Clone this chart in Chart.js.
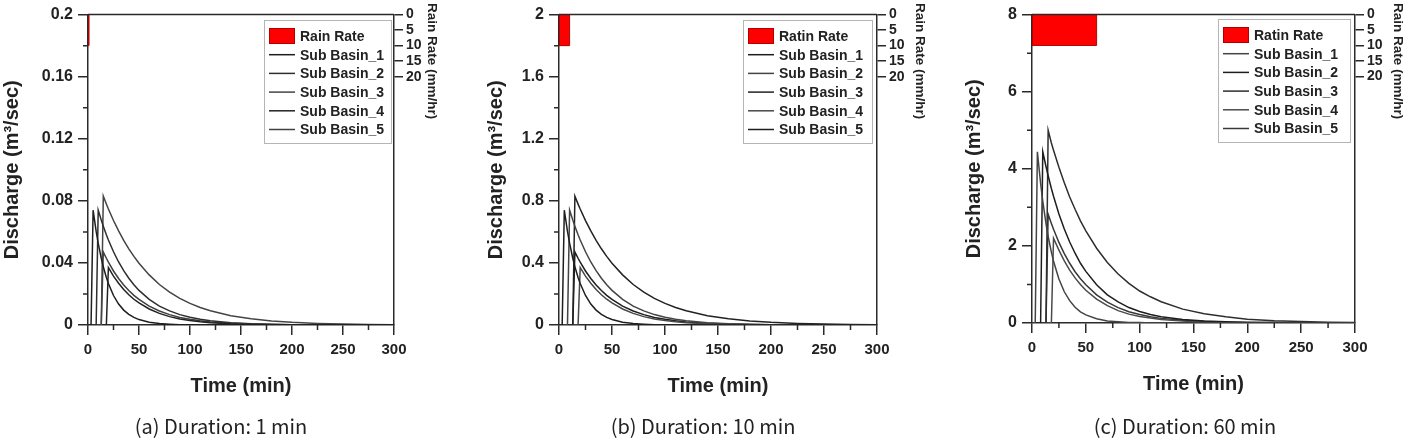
<!DOCTYPE html>
<html>
<head>
<meta charset="utf-8">
<script src="https://cdn.jsdelivr.net/npm/chart.js@4.4.1/dist/chart.umd.min.js"></script>
<style>
  body { margin: 0; background: #fff; width: 1410px; height: 440px; position: relative; overflow: hidden; }
  canvas { position: absolute; top: 0; }
  .cap { position: absolute; top: 414px; width: 300px; text-align: center; color: #222;
         font: 20px/24px "Noto Sans CJK KR", "Noto Sans", sans-serif; }
</style>
</head>
<body>
<canvas id="chartA" width="439" height="440" style="left:0px"></canvas>
<canvas id="chartB" width="443" height="440" style="left:484px"></canvas>
<canvas id="chartC" width="443" height="440" style="left:962px"></canvas>
<div class="cap" style="left:71px">(a) Duration: 1 min</div>
<div class="cap" style="left:553px">(b) Duration: 10 min</div>
<div class="cap" style="left:1035px">(c) Duration: 60 min</div>
<script>
// tiempo comun (min)
const timeMin = [0, 3, 5, 8, 10, 13, 15, 18, 20, 25, 30, 35, 40, 45, 50, 60, 70, 80, 90, 100, 110, 120, 140, 160, 180, 200, 225, 250, 275, 300];
const basinNames = ["Sub Basin_1", "Sub Basin_2", "Sub Basin_3", "Sub Basin_4", "Sub Basin_5"];

// lluvia (mm/hr)
const rainRate = [0, 10, 10, 0];
const rainTimeA = [0, 0, 1, 1];
const rainTimeB = [0, 0, 10, 10];
const rainTimeC = [0, 0, 60, 60];

// (a) Duration 1 min
const basin1A = [0, 0, 0.074, 0.0603, 0.0527, 0.043, 0.0375, 0.0306, 0.0267, 0.019, 0.0135, 0.0096, 0.0069, 0.0049, 0.0035, 0.0018, 0.0009, 0.0005, 0.0002, 0.0001, 0, 0, 0, 0, 0, 0, 0, 0, 0, 0];
const basin2A = [0, 0, 0, 0, 0.074, 0.0676, 0.0637, 0.0582, 0.0548, 0.0472, 0.0406, 0.035, 0.0301, 0.0259, 0.0223, 0.0165, 0.0122, 0.0091, 0.0067, 0.005, 0.0037, 0.0027, 0.0015, 0.0008, 0.0005, 0.0002, 0.0001, 0, 0, 0];
const basin3A = [0, 0, 0, 0, 0, 0, 0.083, 0.0779, 0.0747, 0.0673, 0.0606, 0.0545, 0.0491, 0.0442, 0.0398, 0.0323, 0.0261, 0.0212, 0.0172, 0.0139, 0.0113, 0.0092, 0.006, 0.004, 0.0026, 0.0017, 0.001, 0.0006, 0.0004, 0.0002];
const basin4A = [0, 0, 0, 0, 0, 0, 0, 0, 0.037, 0.0315, 0.0269, 0.0229, 0.0195, 0.0166, 0.0142, 0.0103, 0.0075, 0.0054, 0.0039, 0.0029, 0.0021, 0.0015, 0.0008, 0.0004, 0.0002, 0.0001, 0, 0, 0, 0];
const basin5A = [0, 0, 0, 0, 0, 0, 0.047, 0.043, 0.0405, 0.0348, 0.03, 0.0258, 0.0222, 0.0191, 0.0165, 0.0122, 0.009, 0.0067, 0.0049, 0.0037, 0.0027, 0.002, 0.0011, 0.0006, 0.0003, 0.0002, 0.0001, 0, 0, 0];

// (b) Duration 10 min
const basin1B = [0, 0, 0.74, 0.603, 0.527, 0.43, 0.375, 0.306, 0.267, 0.19, 0.135, 0.096, 0.069, 0.049, 0.035, 0.018, 0.009, 0.005, 0.002, 0.001, 0, 0, 0, 0, 0, 0, 0, 0, 0, 0];
const basin2B = [0, 0, 0, 0, 0.74, 0.676, 0.637, 0.582, 0.548, 0.472, 0.406, 0.35, 0.301, 0.259, 0.223, 0.165, 0.122, 0.091, 0.067, 0.05, 0.037, 0.027, 0.015, 0.008, 0.005, 0.002, 0.001, 0, 0, 0];
const basin3B = [0, 0, 0, 0, 0, 0, 0.83, 0.779, 0.747, 0.673, 0.606, 0.545, 0.491, 0.442, 0.398, 0.323, 0.261, 0.212, 0.172, 0.139, 0.113, 0.092, 0.06, 0.04, 0.026, 0.017, 0.01, 0.006, 0.004, 0.002];
const basin4B = [0, 0, 0, 0, 0, 0, 0, 0, 0.37, 0.315, 0.269, 0.229, 0.195, 0.166, 0.142, 0.103, 0.075, 0.054, 0.039, 0.029, 0.021, 0.015, 0.008, 0.004, 0.002, 0.001, 0, 0, 0, 0];
const basin5B = [0, 0, 0, 0, 0, 0, 0.47, 0.43, 0.405, 0.348, 0.3, 0.258, 0.222, 0.191, 0.165, 0.122, 0.09, 0.067, 0.049, 0.037, 0.027, 0.02, 0.011, 0.006, 0.003, 0.002, 0.001, 0, 0, 0];

// (c) Duration 60 min
const basin1C = [0, 0, 4.44, 3.62, 3.16, 2.58, 2.25, 1.84, 1.6, 1.14, 0.81, 0.58, 0.41, 0.29, 0.21, 0.11, 0.05, 0.03, 0.01, 0.01, 0, 0, 0, 0, 0, 0, 0, 0, 0, 0];
const basin2C = [0, 0, 0, 0, 4.44, 4.06, 3.82, 3.49, 3.29, 2.83, 2.44, 2.1, 1.81, 1.55, 1.34, 0.99, 0.73, 0.55, 0.4, 0.3, 0.22, 0.16, 0.09, 0.05, 0.03, 0.01, 0.01, 0, 0, 0];
const basin3C = [0, 0, 0, 0, 0, 0, 5.0, 4.67, 4.48, 4.04, 3.64, 3.27, 2.95, 2.65, 2.39, 1.94, 1.57, 1.27, 1.03, 0.83, 0.68, 0.55, 0.36, 0.24, 0.16, 0.1, 0.06, 0.04, 0.02, 0.01];
const basin4C = [0, 0, 0, 0, 0, 0, 0, 0, 2.2, 1.89, 1.61, 1.37, 1.17, 1.0, 0.85, 0.62, 0.45, 0.32, 0.23, 0.17, 0.13, 0.09, 0.05, 0.02, 0.01, 0.01, 0, 0, 0, 0];
const basin5C = [0, 0, 0, 0, 0, 0, 2.82, 2.58, 2.43, 2.09, 1.8, 1.55, 1.33, 1.15, 0.99, 0.73, 0.54, 0.4, 0.29, 0.22, 0.16, 0.12, 0.07, 0.04, 0.02, 0.01, 0.01, 0, 0, 0];

const AXIS = "#2a2a2a";
const FONT = "'Liberation Sans', Arial, sans-serif";
Chart.defaults.font.family = FONT;
Chart.defaults.color = "#222";

// marco superior, ticks menores, titulo derecho y leyenda interna
const framePlugin = {
  id: "frame",
  afterDraw(chart, args, o) {
    const ctx = chart.ctx;
    const a = chart.chartArea;
    const x = chart.scales.x;
    const y = chart.scales.y;
    ctx.save();
    ctx.strokeStyle = AXIS;
    ctx.lineWidth = 1.5;
    ctx.beginPath();
    ctx.moveTo(a.left, a.top);
    ctx.lineTo(a.right, a.top);
    for (let v = o.xStep / 2; v < x.max; v += o.xStep) {
      const px = x.getPixelForValue(v);
      ctx.moveTo(px, a.bottom);
      ctx.lineTo(px, a.bottom + 5);
    }
    for (let v = o.yStep / 2; v < y.max; v += o.yStep) {
      const py = y.getPixelForValue(v);
      ctx.moveTo(a.left, py);
      ctx.lineTo(a.left - 5, py);
    }
    ctx.stroke();

    // titulo eje derecho
    ctx.save();
    ctx.translate(a.right + o.rainTitleX, 3);
    ctx.rotate(Math.PI / 2);
    ctx.font = "bold 13.5px " + FONT;
    ctx.fillStyle = "#222";
    ctx.textAlign = "left";
    ctx.textBaseline = "middle";
    ctx.fillText("Rain Rate (mm/hr)", 0, 0);
    ctx.restore();

    // leyenda
    const lg = o.legend;
    const bx = Math.round(a.right - lg.right - lg.width);
    const by = Math.round(a.top + lg.top);
    ctx.fillStyle = "#fff";
    ctx.fillRect(bx, by, lg.width, lg.height);
    ctx.lineWidth = 1;
    ctx.strokeStyle = "#b5b5b5";
    ctx.strokeRect(bx + 0.5, by + 0.5, lg.width, lg.height);
    ctx.font = "bold 14px " + FONT;
    ctx.textBaseline = "middle";
    chart.data.datasets.forEach((ds, i) => {
      const cy = by + 16 + i * 18.7;
      if (i === 0) {
        ctx.fillStyle = ds.backgroundColor;
        ctx.fillRect(bx + 5, cy - 8, 26, 16);
        ctx.strokeStyle = ds.borderColor;
        ctx.strokeRect(bx + 5.5, cy - 7.5, 25, 15);
      } else {
        ctx.strokeStyle = ds.borderColor;
        ctx.lineWidth = 1.5;
        ctx.beginPath();
        ctx.moveTo(bx + 5, cy);
        ctx.lineTo(bx + 31, cy);
        ctx.stroke();
      }
      ctx.fillStyle = "#222";
      ctx.fillText(ds.label, bx + 36, cy + 1);
    });
    ctx.restore();
  },
};

// etiquetas sin ceros de mas: 0.2, 2
const plainNum = (v) => String(Math.round(v * 1000) / 1000);

function buildPanel(id, p) {
  const datasets = [
    {
      label: p.rainLabel,
      yAxisID: "y2",
      data: p.rainTime.map((t, i) => ({ x: t, y: rainRate[i] })),
      backgroundColor: "#ff0000",
      borderColor: "#b00000",
      borderWidth: 1,
      fill: { value: 0 },
      pointRadius: 0,
    },
  ];
  p.basins.forEach((vals, i) => {
    datasets.push({
      label: basinNames[i],
      yAxisID: "y",
      data: timeMin.map((t, j) => ({ x: t, y: vals[j] })),
      borderColor: p.colors[i],
      borderWidth: 1.5,
      pointRadius: 0,
      fill: false,
    });
  });

  const grid = { drawOnChartArea: false, tickLength: 10, color: AXIS, lineWidth: 1.5 };
  const border = { color: AXIS, width: 1.5 };

  new Chart(document.getElementById(id), {
    type: "line",
    data: { datasets: datasets },
    plugins: [framePlugin],
    options: {
      responsive: false,
      animation: false,
      layout: { padding: { top: p.top, bottom: 440 - p.top - p.plotH - 73, left: 0, right: 0 } },
      plugins: {
        legend: { display: false },
        tooltip: { enabled: false },
        frame: { xStep: 50, yStep: p.yStep, rainTitleX: p.rainTitleX, legend: p.legend },
      },
      scales: {
        x: {
          type: "linear",
          min: 0,
          max: 300,
          ticks: { stepSize: 50, padding: 6, font: { size: 15, weight: "bold" }, color: "#222", maxRotation: 0, autoSkip: false },
          grid: grid,
          border: border,
          title: { display: true, text: "Time (min)", font: { size: 20, weight: "bold" }, padding: 0, color: "#222" },
          afterFit(s) { s.height = 73; },
        },
        y: {
          min: 0,
          max: p.yMax,
          ticks: { stepSize: p.yStep, padding: 5, font: { size: 16, weight: "bold" }, color: "#222", autoSkip: false, callback: plainNum },
          grid: grid,
          border: border,
          title: { display: true, text: "Discharge (m³/sec)", font: { size: 20, weight: "bold" }, padding: 0, color: "#222" },
          afterFit(s) { s.width = p.yW; },
        },
        y2: {
          position: "right",
          reverse: true,
          min: 0,
          max: 100,
          afterBuildTicks(s) { s.ticks = s.ticks.filter((t) => t.value <= 20); },
          ticks: { stepSize: 5, padding: 3, font: { size: 14, weight: "bold" }, color: "#222", autoSkip: false },
          grid: { drawOnChartArea: false, tickLength: 9, color: AXIS, lineWidth: 1.5 },
          border: border,
          afterFit(s) { s.width = p.y2W; },
        },
      },
    },
  });
}

buildPanel("chartA", {
  rainLabel: "Rain Rate", rainTime: rainTimeA,
  basins: [basin1A, basin2A, basin3A, basin4A, basin5A],
  colors: ["#1e1e1e", "#2e2e2e", "#444444", "#222222", "#404040"],
  yMax: 0.2, yStep: 0.04, top: 12, plotH: 313, yW: 88, y2W: 45, rainTitleX: 38,
  legend: { right: 3, top: 5, width: 127, height: 123 },
});
buildPanel("chartB", {
  rainLabel: "Ratin Rate", rainTime: rainTimeB,
  basins: [basin1B, basin2B, basin3B, basin4B, basin5B],
  colors: ["#1e1e1e", "#444444", "#222222", "#474747", "#1e1e1e"],
  yMax: 2, yStep: 0.4, top: 12, plotH: 313, yW: 75, y2W: 50, rainTitleX: 43,
  legend: { right: 5, top: 5, width: 129, height: 123 },
});
buildPanel("chartC", {
  rainLabel: "Ratin Rate", rainTime: rainTimeC,
  basins: [basin1C, basin2C, basin3C, basin4C, basin5C],
  colors: ["#444444", "#1e1e1e", "#2e2e2e", "#4a4a4a", "#383838"],
  yMax: 8, yStep: 2, top: 11, plotH: 312, yW: 70, y2W: 50, rainTitleX: 43,
  legend: { right: 5, top: 4, width: 132, height: 123 },
});
</script>
</body>
</html>
